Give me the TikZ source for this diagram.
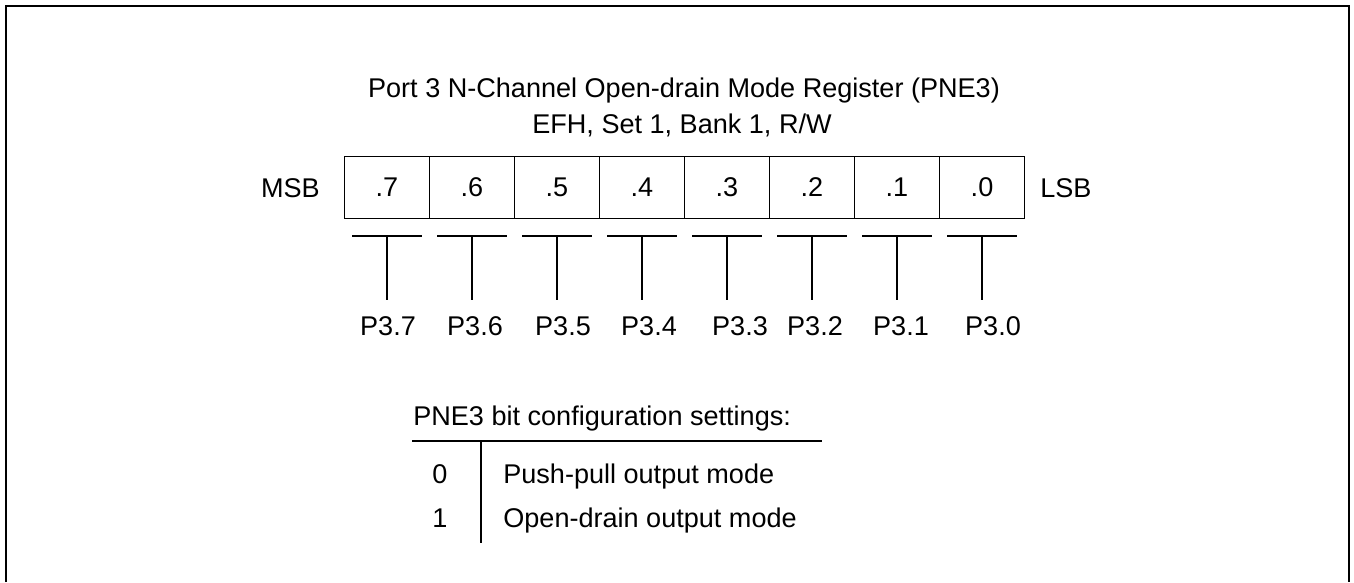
\documentclass[tikz,border=0pt]{standalone}
\usepackage{fontspec}
\setmainfont{Liberation Sans}
\usetikzlibrary{positioning}

\begin{document}
\begin{tikzpicture}[
  x=0.2mm, y=-0.2mm,
  %--- text styles ---
  txt/.style={inner sep=0pt, font=\fontsize{15.4}{18}\selectfont},
  ttl/.style={txt, anchor=base},
  %--- register cells ---
  bitcell/.style={draw, line width=0.9pt, minimum width=1.7cm, minimum height=1.24cm,
    inner sep=0pt, font=\fontsize{15.4}{18}\selectfont},
  %--- lines ---
  tline/.style={line width=0.9pt},
  frame/.style={line width=1.2pt}
]

%% ── BOUNDS + FRAME (open at the bottom) ─────────────────────────────────────
\useasboundingbox (0,0) rectangle (1354,582);
\coordinate (fbl) at (6,582);
\coordinate (ftl) at (6,6);
\coordinate (ftr) at (1349,6);
\coordinate (fbr) at (1349,582);
\draw[frame] (fbl) -- (ftl) -- (ftr) -- (fbr);

%% ── TITLE ───────────────────────────────────────────────────────────────────
\node[ttl] (title) at (684,97) {Port 3 N-Channel Open-drain Mode Register (PNE3)};
\node[ttl] (addr)  at (682,133) {EFH, Set 1, Bank 1, R/W};

%% ── REGISTER: bit cells .7 ... .0 ───────────────────────────────────────────
\foreach \b [count=\i from 0] in {7,6,5,4,3,2,1,0} {
  \node[bitcell] (b\b) at ({387+85*\i},187.5) {.\b};
}
\node[txt, anchor=base east] (msb) at (320,197) {MSB};
\node[txt, anchor=base west] (lsb) at (1040,197) {LSB};

%% ── BIT OUTPUTS: T-bars and pin labels ──────────────────────────────────────
\foreach \b/\lx in {7/388,6/475,5/563,4/649,3/740,2/815,1/901,0/993} {
  \coordinate (t\b) at (b\b.south |- 0,236);
  \coordinate (f\b) at (b\b.south |- 0,300);
  \draw[tline] ([xshift=-35*0.2mm]t\b) -- ([xshift=35*0.2mm]t\b);
  \draw[tline] (t\b) -- (f\b);
  \node[ttl] (p\b) at (\lx,335) {P3.\b};
}

%% ── LEGEND: bit configuration settings ──────────────────────────────────────
\node[txt, anchor=base west] (legttl) at (413,425) {PNE3 bit configuration settings:};
\coordinate (rl) at (412,441);
\coordinate (rr) at (822,441);
\coordinate (vt) at (481,441);
\coordinate (vb) at (481,543);
\draw[tline] (rl) -- (rr);
\draw[tline] (vt) -- (vb);

\node[ttl] (v0) at (440,483) {0};
\node[ttl] (v1) at (440,527) {1};
\node[txt, anchor=base west] (d0) at (503,483) {Push-pull output mode};
\node[txt, anchor=base west] (d1) at (503,527) {Open-drain output mode};
\end{tikzpicture}
\end{document}
